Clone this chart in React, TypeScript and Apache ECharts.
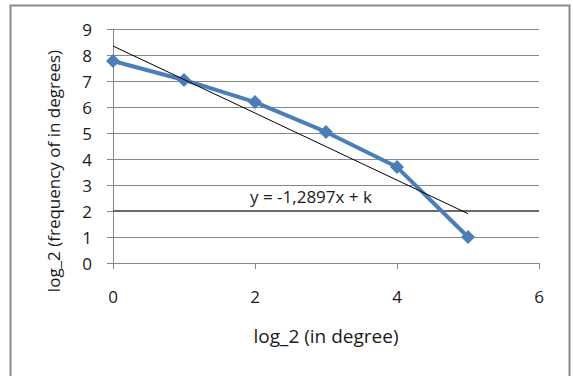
import React, { useEffect, useRef } from "react";
import * as echarts from "echarts";

const xValues = [0, 1, 2, 3, 4, 5];
const yValues = [7.77, 7.04, 6.19, 5.04, 3.69, 1.0];
const xTicks = [0, 2, 4, 6];
const yTicks = [0, 1, 2, 3, 4, 5, 6, 7, 8, 9];
const trendSlope = -1.2897;
const trendLabel = "y = -1,2897x + k";
const xTitle = "log_2 (in degree)";
const yTitle = "log_2 (frequency of in degrees)";

export default function App() {
  const ref = useRef<HTMLDivElement>(null);
  useEffect(() => {
    if (!ref.current) return;
    const chart = echarts.init(ref.current, undefined, { renderer: "svg" });
    const n = xValues.length;
    const mx = xValues.reduce((a, b) => a + b, 0) / n;
    const my = yValues.reduce((a, b) => a + b, 0) / n;
    const k = my - trendSlope * mx;
    const x0 = xValues[0];
    const x1 = xValues[n - 1];
    const trend = [
      [x0, k + trendSlope * x0],
      [x1, k + trendSlope * x1],
    ];
    const font = "'Open Sans', 'Noto Sans', sans-serif";
    chart.setOption({
      animation: false,
      backgroundColor: "#ffffff",
      grid: { left: 113, right: 34, top: 29, bottom: 113 },
      xAxis: {
        type: "value",
        min: xTicks[0],
        max: xTicks[xTicks.length - 1],
        interval: 2,
        name: xTitle,
        nameLocation: "middle",
        nameGap: 63,
        nameTextStyle: { fontFamily: font, fontSize: 19, color: "#1a1a1a" },
        axisLine: { show: true, lineStyle: { color: "#868686", width: 1 } },
        axisTick: { show: true, inside: false, length: 6, lineStyle: { color: "#868686" } },
        axisLabel: { margin: 25, fontFamily: font, fontSize: 17, color: "#1a1a1a" },
        splitLine: { show: false },
      },
      yAxis: {
        type: "value",
        min: yTicks[0],
        max: yTicks[yTicks.length - 1],
        interval: 1,
        axisLine: { show: true, lineStyle: { color: "#868686", width: 1 } },
        axisTick: { show: true, inside: false, length: 6, lineStyle: { color: "#868686" } },
        axisLabel: { margin: 21, fontFamily: font, fontSize: 17, color: "#1a1a1a" },
        splitLine: { show: true, lineStyle: { color: "#868686", width: 1 } },
      },
      graphic: [
        {
          type: "rect",
          shape: { x: 10.5, y: 5.5, width: 559, height: 400 },
          style: { fill: "none", stroke: "#8a8a8a", lineWidth: 2 },
          silent: true,
        },
        {
          type: "text",
          x: 53,
          y: 171,
          rotation: Math.PI / 2,
          style: {
            text: yTitle,
            fontFamily: font,
            fontSize: 17,
            fill: "#1a1a1a",
            align: "center",
            verticalAlign: "middle",
          },
          silent: true,
        },
        {
          type: "text",
          left: 250,
          top: 188,
          style: { text: trendLabel, fontFamily: font, fontSize: 17, fill: "#1a1a1a" },
          silent: true,
        },
      ],
      series: [
        {
          type: "line",
          data: xValues.map((x, i) => [x, yValues[i]]),
          lineStyle: { color: "#4a7ebb", width: 4 },
          itemStyle: { color: "#4a7ebb" },
          symbol: "diamond",
          symbolSize: 14,
          z: 3,
          markLine: {
            silent: true,
            symbol: "none",
            label: { show: false },
            lineStyle: { color: "#6a6a6a", width: 2, type: "solid" },
            data: [{ yAxis: 2 }],
            z: 1,
          },
        },
        {
          type: "line",
          data: trend,
          lineStyle: { color: "#000000", width: 1 },
          symbol: "none",
          z: 4,
        },
      ],
    });
    return () => chart.dispose();
  }, []);
  return (
    <div
      ref={ref}
      style={{ position: "fixed", left: 0, top: 0, width: 573, height: 376 }}
    />
  );
}
